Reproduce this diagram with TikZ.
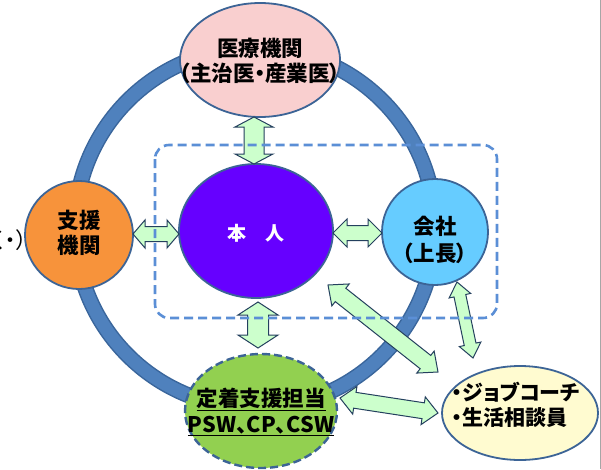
\documentclass[tikz,border=0pt]{standalone}
\usepackage{fontspec}
\setmainfont{Noto Sans CJK JP}[RawFeature=+palt]
\usetikzlibrary{shapes.geometric,calc}
\definecolor{ringc}{HTML}{4F81BD}
\definecolor{ringd}{HTML}{3A669C}
\definecolor{edgec}{HTML}{3C6496}
\definecolor{pinkf}{HTML}{F9CFCF}
\definecolor{orangef}{HTML}{F7933B}
\definecolor{purplef}{HTML}{6600FF}
\definecolor{skyf}{HTML}{66CCFF}
\definecolor{greenf}{HTML}{92D050}
\definecolor{yellowf}{HTML}{FFFBD0}
\definecolor{arrf}{HTML}{CCFFCC}
\definecolor{arrd}{HTML}{24405E}
\definecolor{dashc}{HTML}{5B8FD6}
\tikzset{
  blob/.style={ellipse, inner sep=0pt, draw=edgec, line width=1.8pt},
  txt/.style={align=center, font=\fontsize{21.5}{25.5}\selectfont\bfseries, inner sep=0pt},
  arrowst/.style={fill=arrf, draw=arrd, line width=1pt, line join=miter}
}
% double block arrow: A, B, head length, head half-width, shaft half-width
\newcommand\dbar[5]{%
  \filldraw[arrowst] (#1)
    -- ($(#1)!#3!(#2)!#4!90:(#2)$)
    -- ($(#1)!#3!(#2)!#5!90:(#2)$)
    -- ($(#2)!#3!(#1)!#5!-90:(#1)$)
    -- ($(#2)!#3!(#1)!#4!-90:(#1)$)
    -- (#2)
    -- ($(#2)!#3!(#1)!#4!90:(#1)$)
    -- ($(#2)!#3!(#1)!#5!90:(#1)$)
    -- ($(#1)!#3!(#2)!#5!-90:(#2)$)
    -- ($(#1)!#3!(#2)!#4!-90:(#2)$)
    -- cycle;}
\begin{document}
\begin{tikzpicture}[x=1pt,y=-1pt]
\useasboundingbox (0,0) rectangle (601,469);
\fill[white] (0,0) rectangle (601,469);
% ring
\coordinate (rc) at (255,228);
\draw[ringd, line width=16pt] (rc) circle[radius=180];
\draw[ringc, line width=13pt] (rc) circle[radius=180];
% nodes
\node[blob, fill=pinkf, minimum width=160pt, minimum height=114pt] (med) at (260,60) {};
\node[blob, fill=orangef, minimum width=108pt, minimum height=108pt] (sup) at (79,235) {};
\node[blob, fill=purplef, minimum width=154pt, minimum height=134pt] (hon) at (256,231) {};
\node[blob, fill=skyf, minimum width=106pt, minimum height=106pt] (com) at (435,232) {};
\node[ellipse, inner sep=0pt, fill=greenf, draw=edgec, line width=2.4pt,
      dash pattern=on 8pt off 4pt, minimum width=152pt, minimum height=114pt] (fix) at (261,411) {};
\node[blob, fill=yellowf, minimum width=156pt, minimum height=94pt] (job) at (520,413) {};
% texts
\node[txt] (medt) at (med.center) [yshift=-1pt] {医療機関\\（主治医・産業医）};
\node[txt] (supt) at (sup.center) [yshift=2pt] {支援\\機関};
\node[txt, text=white, font=\fontsize{19}{24}\selectfont\bfseries] (hont) at (hon.center) [yshift=-2pt] {本\hspace{19pt}人};
\node[txt, font=\fontsize{21.5}{27.5}\selectfont\bfseries] (comt) at (com.center) [yshift=-8pt] {会社\\（上長）};
\node[txt] (fixt) at (fix.center) [yshift=-1pt] {\underline{定着支援担当}\\\underline{PSW、CP、CSW}};
\node[txt, align=left, anchor=west, font=\fontsize{21}{25}\selectfont\bfseries] (jobt) at (452,405) {・ジョブコーチ\\・生活相談員};
\node[anchor=east, inner sep=0pt, font=\fontsize{22}{26}\selectfont] (cut) at (27,240) {く・）};
% arrow end points
\coordinate (a1s) at (254,117); \coordinate (a1e) at (254,164);
\coordinate (a2s) at (133,234); \coordinate (a2e) at (179,234);
\coordinate (a3s) at (333,233); \coordinate (a3e) at (382,233);
\coordinate (a4s) at (258,302); \coordinate (a4e) at (258,348);
\coordinate (a5s) at (328,285); \coordinate (a5e) at (438,372);
\coordinate (a6s) at (457,282); \coordinate (a6e) at (473,358);
\coordinate (a7s) at (340,398); \coordinate (a7e) at (438,413);
\dbar{a1s}{a1e}{10pt}{19pt}{10pt}
\dbar{a2s}{a2e}{12pt}{14pt}{7.5pt}
\dbar{a3s}{a3e}{14pt}{14pt}{7.5pt}
\dbar{a4s}{a4e}{13pt}{20pt}{10.5pt}
\dbar{a5s}{a5e}{16pt}{14pt}{8.5pt}
\dbar{a6s}{a6e}{14pt}{11pt}{6pt}
\dbar{a7s}{a7e}{15pt}{14pt}{8pt}
% dashed frame
\draw[dashc, line width=2.6pt, dash pattern=on 9pt off 5pt, rounded corners=14pt]
  (155,145) rectangle (497,318);
% right edge line
\draw[gray!70, line width=1.2pt] (600.4,0) -- (600.4,469);
\end{tikzpicture}
\end{document}
